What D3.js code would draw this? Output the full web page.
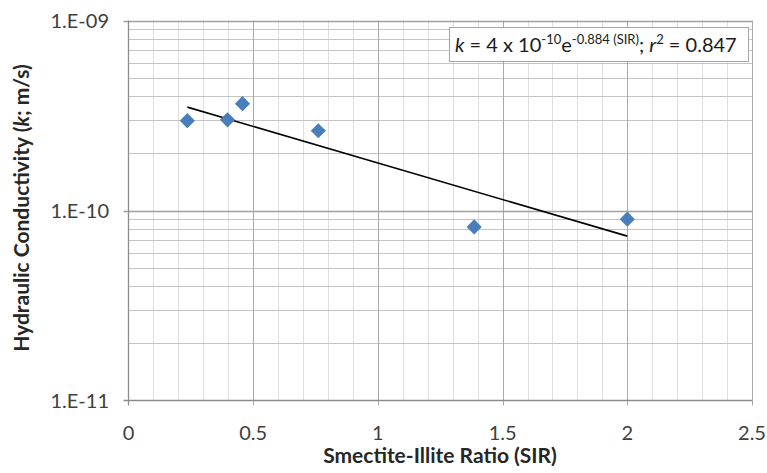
<!doctype html>
<html lang="en">
<head>
<meta charset="utf-8">
<title>Hydraulic Conductivity vs SIR</title>
<style>
  body { margin: 0; background: #fff; }
  svg { display: block; }
  .tick-label { font-family: Lato, "Open Sans", sans-serif; font-size: 20px; fill: #404040; }
  .axis-title { font-family: Lato, "Open Sans", sans-serif; font-size: 21px; font-weight: bold; fill: #262626; }
</style>
</head>
<body>
<script src="https://cdn.jsdelivr.net/npm/d3@7"></script>
<script>

// measured points (SIR, k in m/s)
const sir = [0.236, 0.397, 0.457, 0.761, 1.386, 2.0];
const conductivity = [2.97e-10, 3.0e-10, 3.65e-10, 2.63e-10, 8.2e-11, 9.0e-11];

// trendline endpoints
const trendSir = [0.236, 2.0];
const trendK = [3.5e-10, 7.33e-11];

const xTicks = [0, 0.5, 1, 1.5, 2, 2.5];
const xTickLabels = ["0", "0.5", "1", "1.5", "2", "2.5"];
const yTicks = [1e-9, 1e-10, 1e-11];
const yTickLabels = ["1.E-09", "1.E-10", "1.E-11"];

const width = 767, height = 473;
const plot = {left: 128.5, right: 752, top: 20.5, bottom: 400.5};

const svg = d3.select("body").append("svg")
    .attr("width", width)
    .attr("height", height);

const x = d3.scaleLinear().domain([0, 2.5]).range([plot.left, plot.right]);
const y = d3.scaleLog().domain([1e-11, 1e-9]).range([plot.bottom, plot.top]);

// gridlines - vertical minor every 0.1, major every 0.5
const xMinor = d3.range(1, 26).map(i => i / 10).filter(v => Math.abs(v * 2 - Math.round(v * 2)) > 1e-6);
svg.append("g").selectAll("line")
  .data(xMinor)
  .join("line")
    .attr("x1", d => Math.round(x(d)) + 0.5).attr("x2", d => Math.round(x(d)) + 0.5)
    .attr("y1", plot.top).attr("y2", plot.bottom)
    .attr("stroke", "#dedede").attr("stroke-width", 1);

// horizontal minor (2..9 of each decade)
const yMinor = [];
[1e-11, 1e-10].forEach(dec => { for (let m = 2; m <= 9; m++) yMinor.push(dec * m); });
svg.append("g").selectAll("line")
  .data(yMinor)
  .join("line")
    .attr("x1", plot.left).attr("x2", plot.right)
    .attr("y1", d => Math.round(y(d)) + 0.5).attr("y2", d => Math.round(y(d)) + 0.5)
    .attr("stroke", "#c4c4c4").attr("stroke-width", 1);

svg.append("g").selectAll("line")
  .data(xTicks.slice(1))
  .join("line")
    .attr("x1", d => Math.round(x(d)) + 0.5).attr("x2", d => Math.round(x(d)) + 0.5)
    .attr("y1", plot.top).attr("y2", plot.bottom + 5)
    .attr("stroke", "#a8a8a8").attr("stroke-width", 1);

svg.append("g").selectAll("line")
  .data(yTicks.slice(0, 2))
  .join("line")
    .attr("x1", plot.left - 5).attr("x2", plot.right)
    .attr("y1", d => Math.round(y(d)) + 0.5).attr("y2", d => Math.round(y(d)) + 0.5)
    .attr("stroke", "#a0a0a0").attr("stroke-width", 1.3);

// axes lines
svg.append("line")
  .attr("x1", plot.left - 5).attr("x2", plot.right)
  .attr("y1", plot.bottom).attr("y2", plot.bottom)
  .attr("stroke", "#8c8c8c").attr("stroke-width", 1.3);
svg.append("line")
  .attr("x1", plot.left).attr("x2", plot.left)
  .attr("y1", plot.top).attr("y2", plot.bottom + 5)
  .attr("stroke", "#8c8c8c").attr("stroke-width", 1.3);

// tick labels
svg.append("g").selectAll("text")
  .data(xTicks)
  .join("text")
    .attr("class", "tick-label")
    .attr("x", d => x(d))
    .attr("y", 440)
    .attr("text-anchor", "middle")
    .text((d, i) => xTickLabels[i]);

svg.append("g").selectAll("text")
  .data(yTicks)
  .join("text")
    .attr("class", "tick-label")
    .attr("x", 109)
    .attr("y", d => y(d) + 7)
    .attr("text-anchor", "end")
    .text((d, i) => yTickLabels[i]);

// axis titles
svg.append("text")
  .attr("class", "axis-title")
  .attr("x", 440)
  .attr("y", 463)
  .attr("text-anchor", "middle")
  .text("Smectite-Illite Ratio (SIR)");

const yt = svg.append("text")
  .attr("class", "axis-title")
  .attr("transform", "translate(29,208) rotate(-90)")
  .attr("text-anchor", "middle");
yt.append("tspan").text("Hydraulic Conductivity (");
yt.append("tspan").attr("font-style", "italic").text("k");
yt.append("tspan").text("; m/s)");

// trendline
svg.append("line")
  .attr("x1", x(trendSir[0])).attr("y1", y(trendK[0]))
  .attr("x2", x(trendSir[1])).attr("y2", y(trendK[1]))
  .attr("stroke", "#000").attr("stroke-width", 1.6);

// diamonds
svg.append("g").selectAll("path")
  .data(sir.map((s, i) => [s, conductivity[i]]))
  .join("path")
    .attr("d", d3.symbol(d3.symbolSquare, 115))
    .attr("transform", d => `translate(${x(d[0])},${y(d[1])}) rotate(45)`)
    .attr("fill", "#4a7ebb");

// equation box
const box = svg.append("g");
box.append("rect")
  .attr("x", 449.5).attr("y", 27.5)
  .attr("width", 299).attr("height", 34)
  .attr("fill", "#fff").attr("stroke", "#a6a6a6").attr("stroke-width", 1);

const eq = box.append("text")
  .attr("x", 455).attr("y", 52)
  .attr("font-family", "Lato, 'Open Sans', sans-serif")
  .attr("font-size", 20)
  .attr("fill", "#1a1a1a");
eq.append("tspan").attr("font-style", "italic").text("k");
eq.append("tspan").text(" = 4 x 10");
eq.append("tspan").attr("font-size", 13).attr("dy", -8).text("-10");
eq.append("tspan").attr("dy", 8).text("e");
eq.append("tspan").attr("font-size", 13).attr("dy", -8).text("-0.884 (SIR)");
eq.append("tspan").attr("dy", 8).text("; ");
eq.append("tspan").attr("font-style", "italic").text("r");
eq.append("tspan").attr("font-size", 13).attr("dy", -8).text("2");
eq.append("tspan").attr("dy", 8).text(" = 0.847");

</script>
</body>
</html>
